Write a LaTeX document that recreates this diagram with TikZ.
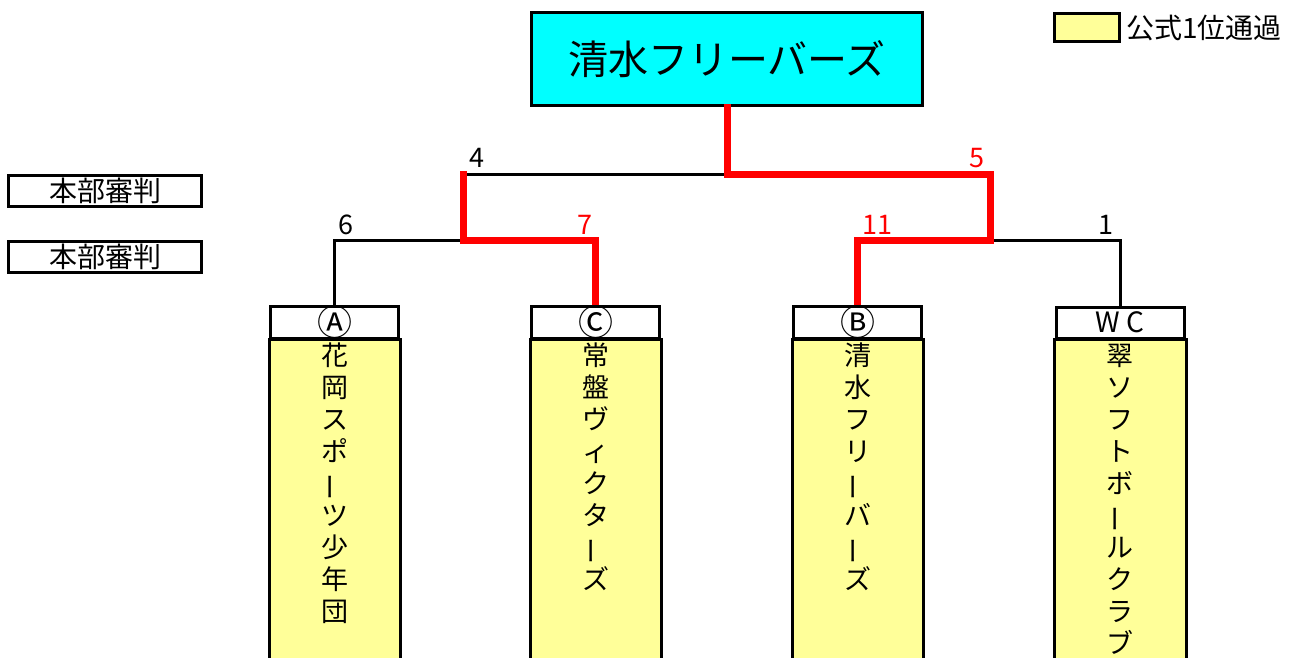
\documentclass[tikz,border=0pt]{standalone}
\usepackage{fontspec}
\usepackage{graphicx}
\setmainfont{Noto Sans CJK JP}
\newcommand{\vbar}{\rotatebox[origin=c]{90}{ー}}
\definecolor{lyellow}{HTML}{FFFF99}
\definecolor{tcyan}{HTML}{00FFFF}
\definecolor{wred}{HTML}{FF0000}
\tikzset{
  bk/.style={line width=3pt, draw=black, line join=miter},
  rd/.style={line width=7pt, draw=wred, line join=miter, line cap=rect},
  numlbl/.style={font=\fontsize{27}{27}\selectfont, inner sep=0pt},
  hdr/.style={draw, line width=3pt, fill=white, minimum width=128pt, minimum height=31pt, inner sep=0pt, font=\fontsize{35}{35}\selectfont},
  hdrw/.style={draw, line width=3pt, fill=white, minimum width=128pt, minimum height=31pt, inner sep=0pt, font=\fontsize{28}{28}\selectfont},
  body/.style={draw, line width=3pt, fill=lyellow},
  vchar/.style={inner sep=0pt, font=\fontsize{27}{27}\selectfont, text height=23.8pt, text depth=3.2pt},
  refbox/.style={draw, line width=3pt, fill=white, minimum width=193pt, minimum height=31pt, inner sep=0pt, font=\fontsize{28}{28}\selectfont},
}
\begin{document}
\begin{tikzpicture}[x=1pt,y=-1pt]
\useasboundingbox (0,0) rectangle (1293,657);
\clip (0,0) rectangle (1293,657);
% coordinates
\coordinate (s1) at (463,174);
\coordinate (f) at (727,174);
\coordinate (q1) at (990,174);
\coordinate (m1) at (463,240);
\coordinate (m2) at (990,240);
% team boxes (bodies)
\filldraw[body] (269,339) rectangle (400,680);
\filldraw[body] (530,339) rectangle (661,680);
\filldraw[body] (792,339) rectangle (923,680);
\filldraw[body] (1054,339) rectangle (1186,680);
% headers
\node[hdr] (hA) at (334.5,322.5) {};
\node[hdr] (hC) at (595.5,322.5) {};
\node[hdr] (hB) at (857.5,322.5) {};
\node[hdrw] (hW) at (1120,322.5) {};
% top box
\node[draw, line width=3pt, fill=tcyan, minimum width=391pt, minimum height=93pt, inner sep=0pt, font=\fontsize{40}{40}\selectfont] (top) at (727,59) {清水フリーバーズ};
% black lines
\draw[bk] (hA.north) |- (m1);
\draw[bk] (s1) -- (f);
\draw[bk] (m2) -| (hW.north);
% red lines
\draw[rd] (top.south) |- (q1) |- (hB.north |- m2) -- (hB.north);
\draw[rd] (s1) -- (m1) -| (hC.north);
% header boxes drawn over line ends
\node[hdr] (hA2) at (hA) {Ⓐ};
\node[hdr] (hC2) at (hC) {Ⓒ};
\node[hdr] (hB2) at (hB) {Ⓑ};
\node[hdrw] (hW2) at (hW) {W\hspace{7pt}C};
% labels
\node[numlbl] (l4) at (477,158) {4};
\node[numlbl, text=wred] (l5) at (977,158) {5};
\node[numlbl] (l6) at (346,225) {6};
\node[numlbl, text=wred] (l7) at (585,225) {7};
\node[numlbl, text=wred] (l11) at (877,225) {11};
\node[numlbl] (l1) at (1106,225) {1};
% referee boxes
\node[refbox] (r1) at (105,190.5) {本部審判};
\node[refbox] (r2) at (105,257) {本部審判};
% legend
\node[draw, line width=3pt, fill=lyellow, minimum width=65pt, minimum height=28pt, inner sep=0pt] (leg) at (1087,27.5) {};
\node[anchor=west, inner sep=0pt, font=\fontsize{28}{28}\selectfont] (legt) at (1126,28) {公式1位通過};
% vertical team names
\foreach \c [count=\i] in {花,岡,ス,ポ,\vbar,ツ,少,年,団}
  \node[vchar] (tA\i) at (334.5,{355+32*(\i-1)}) {\c};
\foreach \c [count=\i] in {常,盤,ヴ,ィ,ク,タ,\vbar,ズ}
  \node[vchar] (tC\i) at (595.5,{355+32*(\i-1)}) {\c};
\foreach \c [count=\i] in {清,水,フ,リ,\vbar,バ,\vbar,ズ}
  \node[vchar] (tB\i) at (857.5,{355+32*(\i-1)}) {\c};
\foreach \c [count=\i] in {翠,ソ,フ,ト,ボ,\vbar,ル,ク,ラ,ブ}
  \node[vchar] (tW\i) at (1120,{355+32*(\i-1)}) {\c};
\end{tikzpicture}
\end{document}
